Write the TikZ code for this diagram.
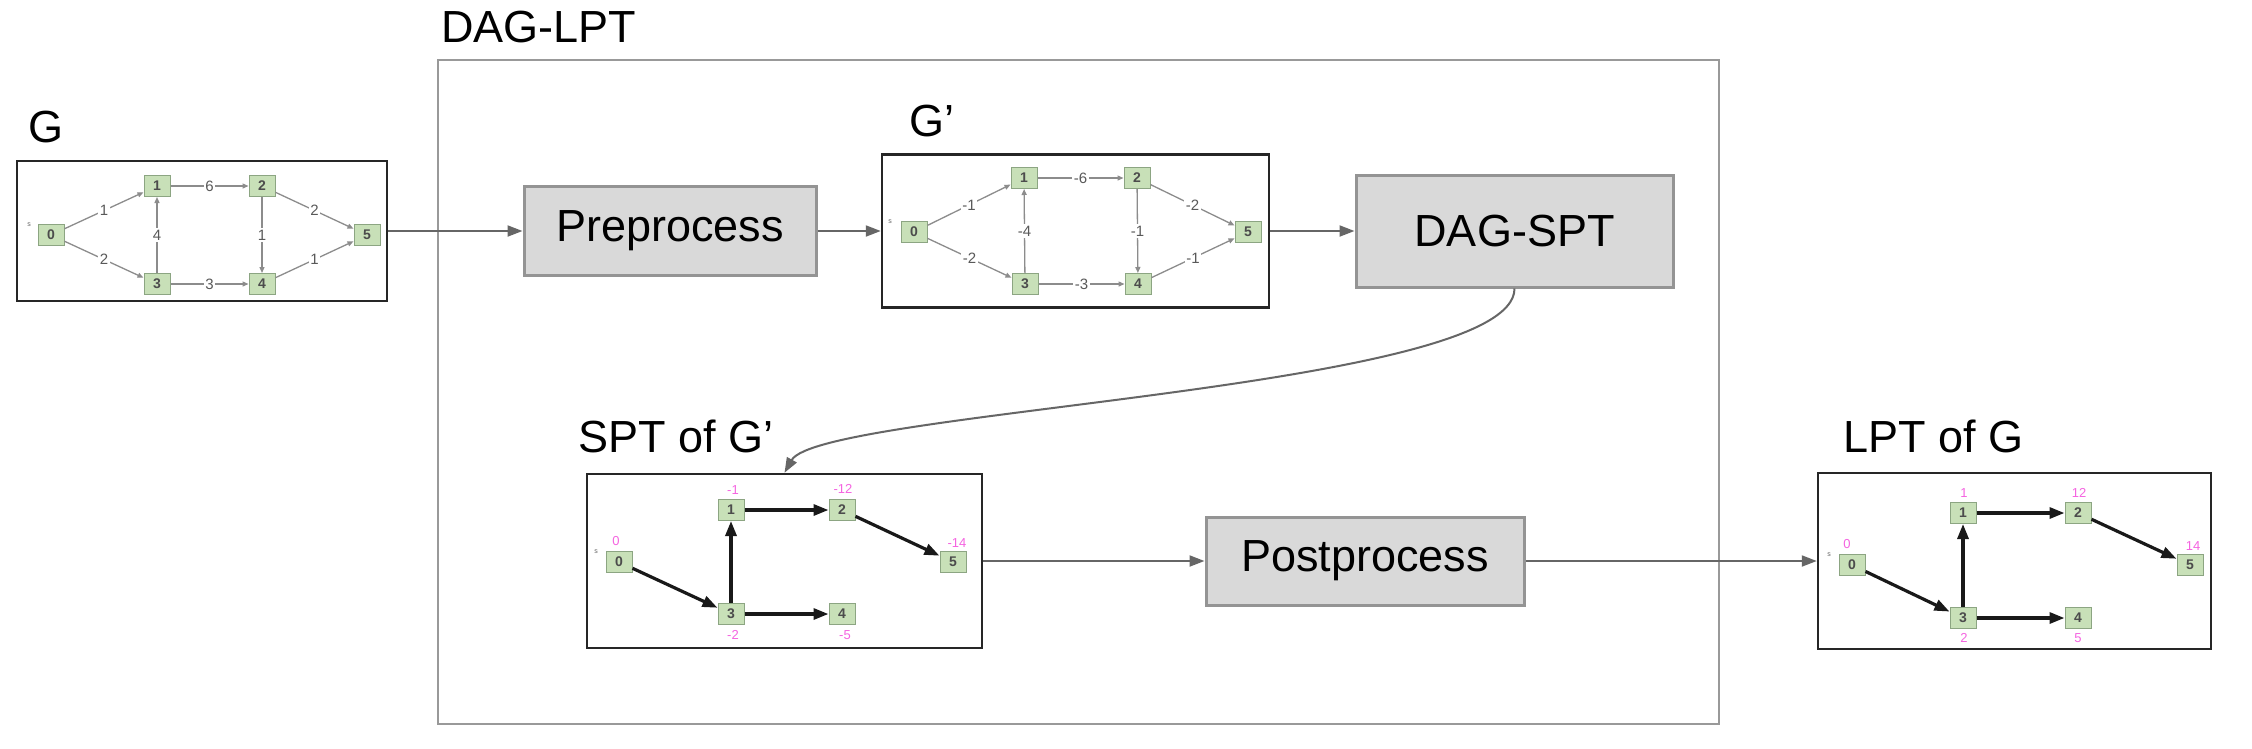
\documentclass[tikz,border=0pt]{standalone}
\usepackage{fontspec}
\setmainfont{Liberation Sans}
\usetikzlibrary{arrows.meta}
\newcommand\lbltxt{\fontsize{45}{54}\selectfont}
\newcommand\nodetxt{\fontsize{14}{16}\selectfont\bfseries}
\newcommand\elabtxt{\fontsize{15}{17}\selectfont}
\newcommand\disttxt{\fontsize{13}{15}\selectfont}
\newcommand\stxt{\fontsize{7}{8}\selectfont}
\definecolor{nodefill}{RGB}{200,224,184}
\definecolor{nodeline}{RGB}{140,165,130}
\definecolor{distcol}{RGB}{245,100,225}
\begin{document}
\begin{tikzpicture}[x=1pt,y=-1pt,
  lbl/.style={font=\lbltxt, anchor=base west, inner sep=0},
  container/.style={draw=black!40, line width=2pt, inner sep=0},
  frame/.style={draw=black!85, line width=2.5pt, fill=white, inner sep=0},
  procbox/.style={draw=black!42, line width=3pt, fill=black!15, font=\lbltxt, inner sep=0},
  mainarrow/.style={draw=black!60, line width=2pt, -{Triangle[length=15pt,width=11pt]}},
  gnode/.style={draw=nodeline, fill=nodefill, line width=1pt, minimum width=26pt, minimum height=21pt, inner sep=0, font=\nodetxt, text=black!70},
  gedge/.style={draw=black!45, line width=1.3pt, -{Triangle[length=6pt,width=5pt]}},
  elab/.style={fill=white, inner sep=1.5pt, font=\elabtxt, text=black!65},
  tedge/.style={draw=black!90, line width=3.2pt, -{Triangle[length=15pt,width=11pt]}},
  dist/.style={text=distcol, font=\disttxt, inner sep=0},
  slab/.style={font=\stxt, text=black!60, inner sep=0}]
\useasboundingbox (0,0) rectangle (2252,748);
\fill[white] (0,0) rectangle (2252,748);

% container
\node[container, minimum width=1281pt, minimum height=664pt] (lptbox) at (1078.5,392) {};
\node[lbl] (tD) at (441,42) {DAG-LPT};

% frames
\node[frame, minimum width=370pt, minimum height=140pt] (gbox) at (202,231) {};
\node[frame, minimum width=387pt, minimum height=153pt] (hbox) at (1075.5,231) {};
\node[frame, minimum width=395pt, minimum height=174pt] (pbox) at (784.5,561) {};
\node[frame, minimum width=393pt, minimum height=176pt] (qbox) at (2014.5,561) {};

\node[lbl] (tG) at (28,142) {G};
\node[lbl] (tH) at (909,136) {G’};
\node[lbl] (tS) at (578,452) {SPT of G’};
\node[lbl] (tL) at (1843,452) {LPT of G};

% process boxes
\node[procbox, minimum width=292pt, minimum height=89pt] (pre) at (670,231) {Preprocess};
\node[procbox, minimum width=317pt, minimum height=112pt] (spt) at (1514.5,231) {DAG-SPT};
\node[procbox, minimum width=318pt, minimum height=88pt] (post) at (1365,561) {Postprocess};

% graph G
\node[gnode] (g0) at (51,235) {0};
\node[gnode] (g1) at (157,186) {1};
\node[gnode] (g2) at (262,186) {2};
\node[gnode] (g3) at (157,284) {3};
\node[gnode] (g4) at (262,284) {4};
\node[gnode] (g5) at (367,235) {5};
\node[slab] (gs) at (29,225) {s};
\draw[gedge] (g0) -- node[elab] (lg01) {1} (g1);
\draw[gedge] (g0) -- node[elab] (lg03) {2} (g3);
\draw[gedge] (g3) -- node[elab] (lg31) {4} (g1);
\draw[gedge] (g1) -- node[elab] (lg12) {6} (g2);
\draw[gedge] (g3) -- node[elab] (lg34) {3} (g4);
\draw[gedge] (g2) -- node[elab] (lg24) {1} (g4);
\draw[gedge] (g2) -- node[elab] (lg25) {2} (g5);
\draw[gedge] (g4) -- node[elab] (lg45) {1} (g5);

% graph G'
\node[gnode] (h0) at (914,232) {0};
\node[gnode] (h1) at (1024,178) {1};
\node[gnode] (h2) at (1137,178) {2};
\node[gnode] (h3) at (1025,284) {3};
\node[gnode] (h4) at (1138,284) {4};
\node[gnode] (h5) at (1248,232) {5};
\node[slab] (hs) at (890,222) {s};
\draw[gedge] (h0) -- node[elab] (lh01) {-1} (h1);
\draw[gedge] (h0) -- node[elab] (lh03) {-2} (h3);
\draw[gedge] (h3) -- node[elab] (lh31) {-4} (h1);
\draw[gedge] (h1) -- node[elab] (lh12) {-6} (h2);
\draw[gedge] (h3) -- node[elab] (lh34) {-3} (h4);
\draw[gedge] (h2) -- node[elab] (lh24) {-1} (h4);
\draw[gedge] (h2) -- node[elab] (lh25) {-2} (h5);
\draw[gedge] (h4) -- node[elab] (lh45) {-1} (h5);

% SPT of G'
\node[gnode] (p0) at (619,562) {0};
\node[gnode] (p1) at (731,510) {1};
\node[gnode] (p2) at (842,510) {2};
\node[gnode] (p3) at (731,614) {3};
\node[gnode] (p4) at (842,614) {4};
\node[gnode] (p5) at (953,562) {5};
\node[slab] (ps) at (596,552) {s};
\draw[tedge] (p0) -- (p3);
\draw[tedge] (p3) -- (p1);
\draw[tedge] (p3) -- (p4);
\draw[tedge] (p1) -- (p2);
\draw[tedge] (p2) -- (p5);
\node[dist] (dp0) at (616,541) {0};
\node[dist] (dp1) at (733,490) {-1};
\node[dist] (dp2) at (843,489) {-12};
\node[dist] (dp5) at (957,543) {-14};
\node[dist] (dp3) at (733,635) {-2};
\node[dist] (dp4) at (845,635) {-5};

% LPT of G
\node[gnode] (q0) at (1852,565) {0};
\node[gnode] (q1) at (1963,513) {1};
\node[gnode] (q2) at (2078,513) {2};
\node[gnode] (q3) at (1963,618) {3};
\node[gnode] (q4) at (2078,618) {4};
\node[gnode] (q5) at (2190,565) {5};
\node[slab] (qs) at (1829,555) {s};
\draw[tedge] (q0) -- (q3);
\draw[tedge] (q3) -- (q1);
\draw[tedge] (q3) -- (q4);
\draw[tedge] (q1) -- (q2);
\draw[tedge] (q2) -- (q5);
\node[dist] (dq0) at (1847,544) {0};
\node[dist] (dq1) at (1964,493) {1};
\node[dist] (dq2) at (2079,493) {12};
\node[dist] (dq5) at (2193,546) {14};
\node[dist] (dq3) at (1964,638) {2};
\node[dist] (dq4) at (2078,638) {5};

% main connectors
\coordinate (c1) at (1515,390);
\coordinate (c2) at (820,410);
\draw[mainarrow] (gbox.east) -- (pre.west);
\draw[mainarrow] (pre.east) -- (hbox.west);
\draw[mainarrow] (hbox.east) -- (spt.west);
\draw[mainarrow] (spt.south) .. controls (c1) and (c2) .. (pbox.north);
\draw[mainarrow] (pbox.east) -- (post.west);
\draw[mainarrow] (post.east) -- (qbox.west);
\end{tikzpicture}
\end{document}
